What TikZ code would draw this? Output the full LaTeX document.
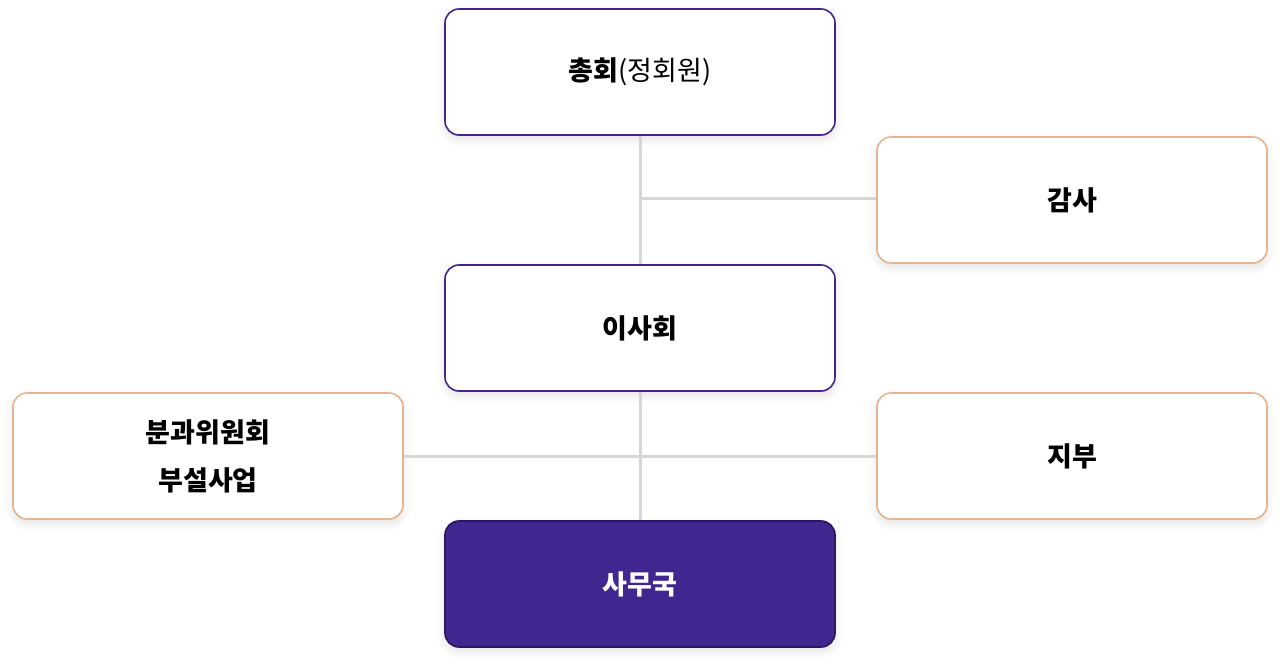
\documentclass[tikz,border=0pt]{standalone}
\usepackage{fontspec}
\setmainfont{Noto Sans CJK KR}
\usetikzlibrary{shadows.blur}
\definecolor{purp}{HTML}{42268F}
\definecolor{purpdark}{HTML}{2A1563}
\definecolor{peach}{HTML}{E3B48F}
\definecolor{linegray}{HTML}{D6D6D6}
\tikzset{
  box/.style={rounded corners=14pt, minimum width=390pt, minimum height=126pt, line width=1.6pt, fill=white, align=center, font=\fontsize{27}{48}\selectfont\bfseries,
    blur shadow={shadow xshift=0pt, shadow yshift=-4pt, shadow blur radius=8pt, shadow opacity=12}},
  mainbox/.style={box, draw=purp},
  sidebox/.style={box, draw=peach},
  darkbox/.style={box, draw=purpdark, fill=purp, text=white},
  conn/.style={draw=linegray, line width=3pt}
}
\begin{document}
\begin{tikzpicture}[x=1pt,y=-1pt]
\useasboundingbox (0,0) rectangle (1280,664);
\coordinate (j1) at (640,198);
\draw[conn] (640,135) -- (640,521);
\node[mainbox] (gm) at (640,72) {\raisebox{-2pt}{총회\mdseries(정회원)}};
\node[sidebox] (audit) at (1072,200) {\raisebox{-2pt}{감사}};
\node[mainbox] (board) at (640,328) {\raisebox{-2pt}{이사회}};
\node[sidebox] (comm) at (208,456) {\raisebox{-2pt}{분과위원회}\\\raisebox{-2pt}{부설사업}};
\node[sidebox] (branch) at (1072,456) {\raisebox{-2pt}{지부}};
\node[darkbox] (office) at (640,584) {\raisebox{-2pt}{사무국}};
\draw[conn] (gm.south) -- (board.north);
\draw[conn] (board.south) -- (office.north);
\draw[conn] (j1) -- (j1 -| audit.west);
\draw[conn] (comm.east) -- (branch.west);
\end{tikzpicture}
\end{document}
